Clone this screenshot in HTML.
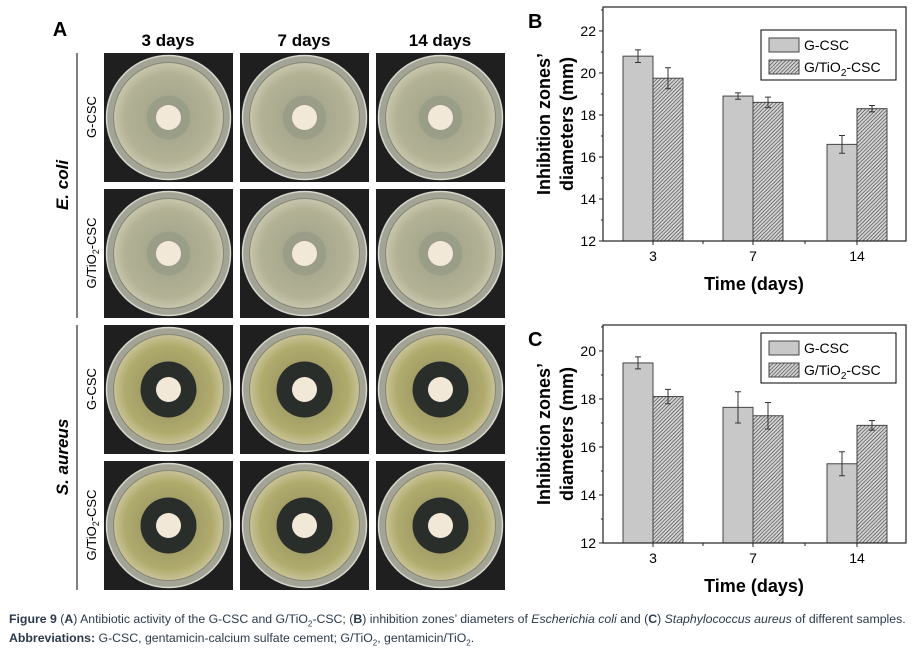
<!DOCTYPE html>
<html><head><meta charset="utf-8"><style>
body{margin:0;background:#fff;width:920px;height:652px;overflow:hidden;font-family:"Liberation Sans",sans-serif}
svg{position:absolute;left:0;top:0}
.cap{position:absolute;left:9px;font-size:12.3px;color:#2a3a4a;white-space:nowrap}
</style></head><body>
<svg width="920" height="652">
<defs>
<pattern id="hatch" patternUnits="userSpaceOnUse" width="2.6" height="2.6" patternTransform="rotate(45)">
<rect width="2.6" height="2.6" fill="#d4d4d4"/><line x1="0" y1="0" x2="0" y2="2.6" stroke="#444" stroke-width="1.3"/></pattern>
<radialGradient id="agarE" cx="50%" cy="50%" r="50%"><stop offset="0" stop-color="#9da08a"/><stop offset="0.8" stop-color="#b3b295"/><stop offset="1" stop-color="#c8c6ad"/></radialGradient>
<radialGradient id="agarS" cx="50%" cy="50%" r="50%"><stop offset="0" stop-color="#8c8a60"/><stop offset="0.8" stop-color="#b0ab6c"/><stop offset="1" stop-color="#c9c398"/></radialGradient>
</defs>
<g id="panelA"></g>
<g id="chartB"></g>
<g id="chartC"></g>
</svg>
<div class="cap" style="top:612px"><b>Figure 9</b> (<b>A</b>) Antibiotic activity of the G-CSC and G/TiO<sub style="font-size:8px">2</sub>-CSC; (<b>B</b>) inhibition zones’ diameters of <i>Escherichia coli</i> and (<b>C</b>) <i>Staphylococcus aureus</i> of different samples.</div>
<div class="cap" style="top:631px"><b>Abbreviations:</b> G-CSC, gentamicin-calcium sulfate cement; G/TiO<sub style="font-size:8px">2</sub>, gentamicin/TiO<sub style="font-size:8px">2</sub>.</div>
<script>
const NS="http://www.w3.org/2000/svg";
function mk(p,t,a,txt){const e=document.createElementNS(NS,t);for(const k in a)e.setAttribute(k,a[k]);if(txt!=null)e.textContent=txt;p.appendChild(e);return e;}

// Panel A
const A=document.getElementById('panelA');
const colX=[104,240,376], rowY=[53,189,325,461], tile=129;
const colLabels=["3 days","7 days","14 days"];
const rowLabels=["G-CSC","G/TiO2-CSC","G-CSC","G/TiO2-CSC"];
let t=mk(A,'text',{x:60,y:36,'font-size':20,'font-weight':'bold','text-anchor':'middle'},'A');


colLabels.forEach((l,i)=>{const e=mk(A,'text',{x:colX[i]+64,y:46,'font-size':17,'font-weight':'bold','text-anchor':'middle'},l);

});
[[53,318],[325,590]].forEach(r=>{const e=mk(A,'line',{x1:77,x2:77,y1:r[0],y2:r[1],stroke:'#000','stroke-width':1});

});
[["E. coli",185],["S. aureus",457]].forEach(g=>{const e=mk(A,'text',{x:0,y:0,'font-size':17,'font-weight':'bold','font-style':'italic','text-anchor':'middle',transform:`translate(68,${g[1]}) rotate(-90)`},g[0]);

});
rowLabels.forEach((l,r)=>{const e=mk(A,'text',{x:0,y:0,'font-size':13,'text-anchor':'middle',transform:`translate(96,${rowY[r]+64}) rotate(-90)`});
if(l.includes('TiO2')){e.appendChild(document.createTextNode('G/TiO'));mk(e,'tspan',{'font-size':9,dy:3},'2');mk(e,'tspan',{dy:-3},'-CSC');}else e.textContent=l;


colX.forEach(x=>{const y=rowY[r],cx=x+64.5,cy=y+64.5,s=r>=2;
const g=mk(A,'g',{});


mk(g,'rect',{x:x,y:y,width:tile,height:tile,fill:'#1e1f1e'});
mk(g,'circle',{cx,cy,r:62,fill:'#a3a496',stroke:'#d6d6cc','stroke-width':1.5});
mk(g,'circle',{cx,cy,r:55,fill:s?'url(#agarS)':'url(#agarE)',stroke:'#858673','stroke-width':1});
mk(g,'circle',{cx,cy,r:s?28:22,fill:s?'#2a2e2a':'#8d937e',opacity:s?1:0.45});
mk(g,'circle',{cx,cy,r:12.5,fill:'#f1e8d8'});});
});

// Charts
const categories=["3","7","14"];
const seriesNames=["G-CSC","G/TiO2-CSC"];
const bGcsc=[20.8,18.9,16.6], bGcscErr=[0.3,0.15,0.42];
const bTio2=[19.75,18.6,18.3], bTio2Err=[0.5,0.25,0.15];
const cGcsc=[19.5,17.65,15.3], cGcscErr=[0.25,0.65,0.5];
const cTio2=[18.1,17.3,16.9], cTio2Err=[0.3,0.55,0.2];
const bTicks=[12,14,16,18,20,22], cTicks=[12,14,16,18,20];

function chart(id,letter,top,bottom,ymin,ymax,ticks,s1,e1,s2,e2,legY){
  const G=document.getElementById(id);
  const x0=603,x1=906;
  const ys=v=>bottom-(v-ymin)/(ymax-ymin)*(bottom-top);
  const cx=[653,753,857];
  const xs=i=>cx[i];
  let e=mk(G,'text',{x:528,y:top+21,'font-size':20,'font-weight':'bold'},letter);
  
  
  [[s1,e1,-1,'#c8c8c8'],[s2,e2,0,'url(#hatch)']].forEach((sr,k)=>{
    sr[0].forEach((v,i)=>{const bx=xs(i)+sr[2]*30;
      const b=mk(G,'rect',{x:bx,y:ys(v),width:30,height:ys(ymin)-ys(v),fill:sr[3],stroke:'#444','stroke-width':1});
      
      
      const m=bx+15,hi=ys(v+sr[1][i]),lo=ys(v-sr[1][i]);
      const eb=mk(G,'path',{d:`M${m},${hi}V${lo}M${m-3},${hi}H${m+3}M${m-3},${lo}H${m+3}`,stroke:'#333',fill:'none','stroke-width':1});
      
      });
  });
  const ax=mk(G,'rect',{x:x0,y:top,width:x1-x0,height:bottom-top,fill:'none',stroke:'#222','stroke-width':1.2});
  
  
  ticks.forEach(v=>{mk(G,'line',{x1:x0-4,x2:x0,y1:ys(v),y2:ys(v),stroke:'#222'});
    mk(G,'line',{x1:x0-2,x2:x0,y1:ys(v+1),y2:ys(v+1),stroke:'#222'});
    const l=mk(G,'text',{x:x0-7,y:ys(v)+5,'font-size':14,'text-anchor':'end'},v);
    
    });
  categories.forEach((c,i)=>{mk(G,'line',{x1:xs(i),x2:xs(i),y1:bottom,y2:bottom+4,stroke:'#222'});
    const l=mk(G,'text',{x:xs(i),y:bottom+20,'font-size':14,'text-anchor':'middle'},c);
    
    });
  [703,805].forEach(x=>mk(G,'line',{x1:x,x2:x,y1:bottom,y2:bottom+3,stroke:'#222'}));
  e=mk(G,'text',{x:754,y:bottom+49,'font-size':18,'font-weight':'bold','text-anchor':'middle'},'Time (days)');
  
  
  const mid=(top+bottom)/2;
  e=mk(G,'text',{x:0,y:0,'font-size':18,'font-weight':'bold','text-anchor':'middle',transform:`translate(550,${mid}) rotate(-90)`},'Inhibition zones’');
  
  
  e=mk(G,'text',{x:0,y:0,'font-size':18,'font-weight':'bold','text-anchor':'middle',transform:`translate(573,${mid}) rotate(-90)`},'diameters (mm)');
  
  
  const lg=mk(G,'g',{});
  
  
  mk(lg,'rect',{x:761,y:legY,width:135,height:50,fill:'#fff',stroke:'#000','stroke-width':1});
  mk(lg,'rect',{x:769,y:legY+8,width:30,height:14,fill:'#c8c8c8',stroke:'#444'});
  mk(lg,'rect',{x:769,y:legY+30,width:30,height:14,fill:'url(#hatch)',stroke:'#444'});
  mk(lg,'text',{x:804,y:legY+20,'font-size':14},seriesNames[0]);
  const t2=mk(lg,'text',{x:804,y:legY+42,'font-size':14},'G/TiO');
  mk(t2,'tspan',{'font-size':10,dy:4},'2');mk(t2,'tspan',{dy:-4},'-CSC');
}
chart('chartB','B',7,241,12,23.14,bTicks,bGcsc,bGcscErr,bTio2,bTio2Err,30);
chart('chartC','C',325,543,12,21.08,cTicks,cGcsc,cGcscErr,cTio2,cTio2Err,333);
</script>
</body></html>
